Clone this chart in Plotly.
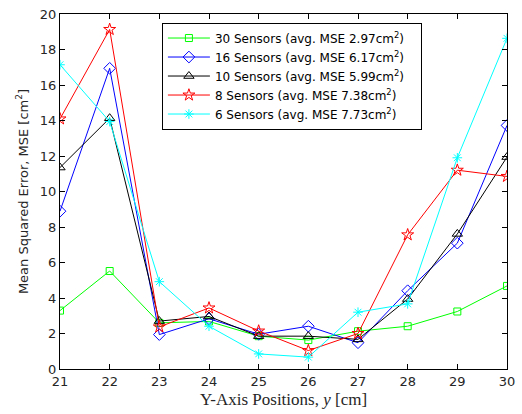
import plotly.graph_objects as go

positions = [21, 22, 23, 24, 25, 26, 27, 28, 29, 30]
s30 = [3.29, 5.52, 2.60, 2.68, 1.85, 1.63, 2.13, 2.41, 3.24, 4.68]
s16 = [8.89, 16.94, 1.94, 2.83, 1.96, 2.41, 1.48, 4.41, 7.09, 13.72]
s10 = [11.35, 14.13, 2.70, 2.96, 1.85, 1.85, 1.67, 3.94, 7.61, 11.94]
s8 = [14.09, 19.13, 2.37, 3.44, 2.14, 1.04, 2.00, 7.56, 11.20, 10.85]
s6 = [17.14, 13.94, 4.92, 2.41, 0.85, 0.67, 3.20, 3.67, 11.90, 18.63]

names = ["30 Sensors (avg. MSE 2.97cm<sup>2</sup>)&nbsp;&nbsp;&nbsp;",
         "16 Sensors (avg. MSE 6.17cm<sup>2</sup>)&nbsp;&nbsp;&nbsp;",
         "10 Sensors (avg. MSE 5.99cm<sup>2</sup>)&nbsp;&nbsp;&nbsp;",
         "8 Sensors (avg. MSE 7.38cm<sup>2</sup>)",
         "6 Sensors (avg. MSE 7.73cm<sup>2</sup>)"]
series = [s30, s16, s10, s8, s6]
colors = ["#00ff00", "#0000ff", "#000000", "#ff0000", "#00ffff"]
symbols = ["square-open", "diamond-open", "triangle-up-open", "star-open", "asterisk-open"]
sizes = [7, 9, 9, 9, 8]

fig = go.Figure()
for n, s, c, sym, sz in zip(names, series, colors, symbols, sizes):
    fig.add_trace(go.Scatter(x=positions, y=s, name=n, mode="lines+markers",
                             line=dict(color=c, width=1),
                             marker=dict(symbol=sym, size=sz, color=c, line=dict(color=c, width=1))))

axis_common = dict(showline=True, linecolor="black", linewidth=1, mirror="ticks",
                   ticks="inside", ticklen=5, tickcolor="black", showgrid=False, zeroline=False,
                   ticklabeloverflow="allow",
                   tickfont=dict(family="DejaVu Sans", size=13, color="#262626"))

fig.update_layout(
    width=522, height=414,
    margin=dict(l=60, r=7, t=9, b=45),
    paper_bgcolor="white", plot_bgcolor="white",
    xaxis=dict(range=[21, 30], dtick=1, **axis_common,
               title=dict(text="Y-Axis Positions, <i>y</i> [cm]", standoff=5,
                          font=dict(family="Liberation Serif", size=17, color="#262626"))),
    yaxis=dict(range=[0, 20], dtick=2, **axis_common,
               title=dict(text="Mean Squared Error, MSE [cm<sup>2</sup>]", standoff=8,
                          font=dict(family="DejaVu Sans", size=13, color="#262626"))),
    legend=dict(x=0.228, y=0.976, xanchor="left", yanchor="top",
                bordercolor="black", borderwidth=1, bgcolor="white",
                font=dict(family="DejaVu Sans", size=12, color="black"),
                tracegroupgap=0, itemwidth=42),
    showlegend=True,
)

fig.write_html("out.html", config={"displayModeBar": False})
with open("out.html", "r", encoding="utf-8") as f:
    html = f.read()
html = html.replace("<body>", '<body style="margin:0;padding:0;overflow:hidden">', 1)
with open("out.html", "w", encoding="utf-8") as f:
    f.write(html)
